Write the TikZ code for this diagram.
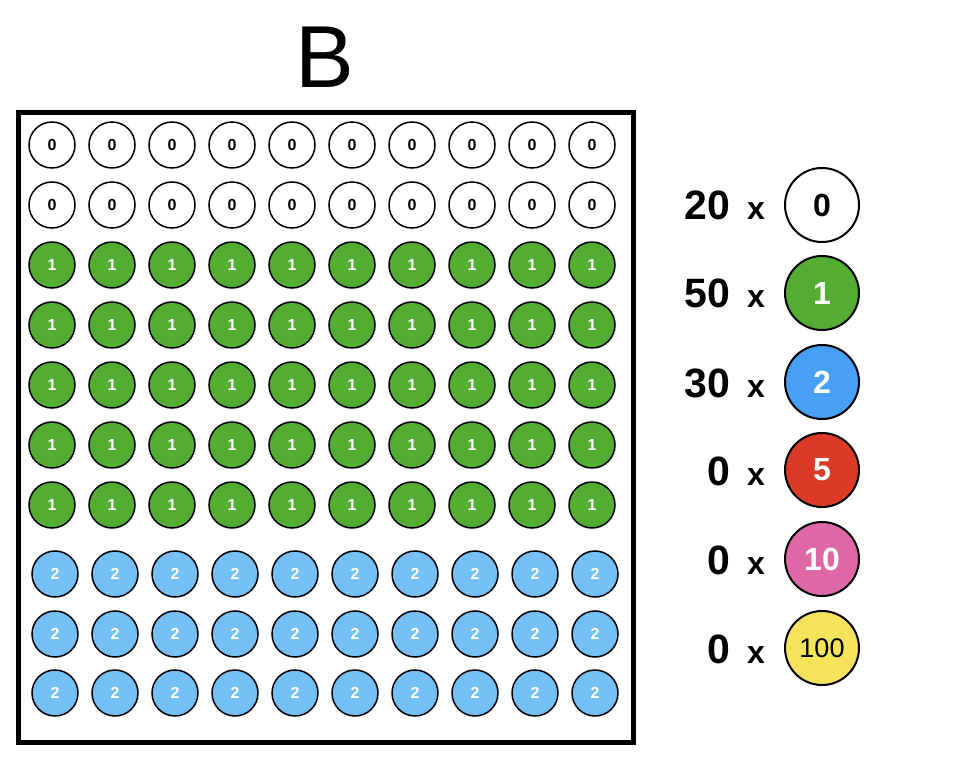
\documentclass[tikz,border=0pt]{standalone}
\usepackage{fontspec}
\setmainfont{Liberation Sans}
\definecolor{cgreen}{HTML}{52AD32}
\definecolor{clblue}{HTML}{76C0F8}
\definecolor{cblue}{HTML}{47A0F5}
\definecolor{cred}{HTML}{DB3B26}
\definecolor{cpink}{HTML}{DE67A8}
\definecolor{cyellow}{HTML}{F6E35C}
\tikzset{
  coin/.style={circle, draw=black, line width=1.5pt, minimum size=46pt, inner sep=0pt, font=\fontsize{16}{16}\selectfont\bfseries},
  bigcoin/.style={circle, draw=black, line width=2pt, minimum size=74pt, inner sep=0pt, font=\fontsize{32}{32}\selectfont\bfseries},
  cnt/.style={anchor=base east, font=\fontsize{41}{41}\selectfont\bfseries},
  times/.style={anchor=base, font=\fontsize{32}{32}\selectfont\bfseries},
}
\begin{document}
\begin{tikzpicture}[x=1pt,y=-1pt]
\useasboundingbox (0,0) rectangle (975,759);
\node[font=\fontsize{88}{88}\selectfont] (title) at (325,57) {B};
\draw[line width=5pt] (18,113) rectangle (633,742);
\foreach \c in {0,...,9}{
  \foreach \r in {0,1}{
    \node[coin, fill=white, text=black] (w\r\c) at (52+60*\c,145+60*\r) {0};
  }
  \foreach \r in {0,...,4}{
    \node[coin, fill=cgreen, text=white] (g\r\c) at (52+60*\c,265+60*\r) {1};
  }
  \foreach \r/\y in {0/574,1/634,2/693}{
    \node[coin, fill=clblue, text=white] (b\r\c) at (55+60*\c,\y) {2};
  }
}
\foreach \y/\n [count=\i from 0] in {220/20,308/50,397/30,485/0,574/0,663/0}{
  \node[cnt] (n\i) at (734,\y) {\n};
  \node[times] (x\i) at (756,\y) {x};
}
\node[bigcoin, fill=white, text=black] (l0) at (822,205) {0};
\node[bigcoin, fill=cgreen, text=white] (l1) at (822,293) {1};
\node[bigcoin, fill=cblue, text=white] (l2) at (822,382) {2};
\node[bigcoin, fill=cred, text=white] (l3) at (822,470) {5};
\node[bigcoin, fill=cpink, text=white] (l4) at (822,559) {10};
\node[bigcoin, fill=cyellow, text=black, font=\fontsize{27}{27}\selectfont] (l5) at (822,648) {100};
\end{tikzpicture}
\end{document}
